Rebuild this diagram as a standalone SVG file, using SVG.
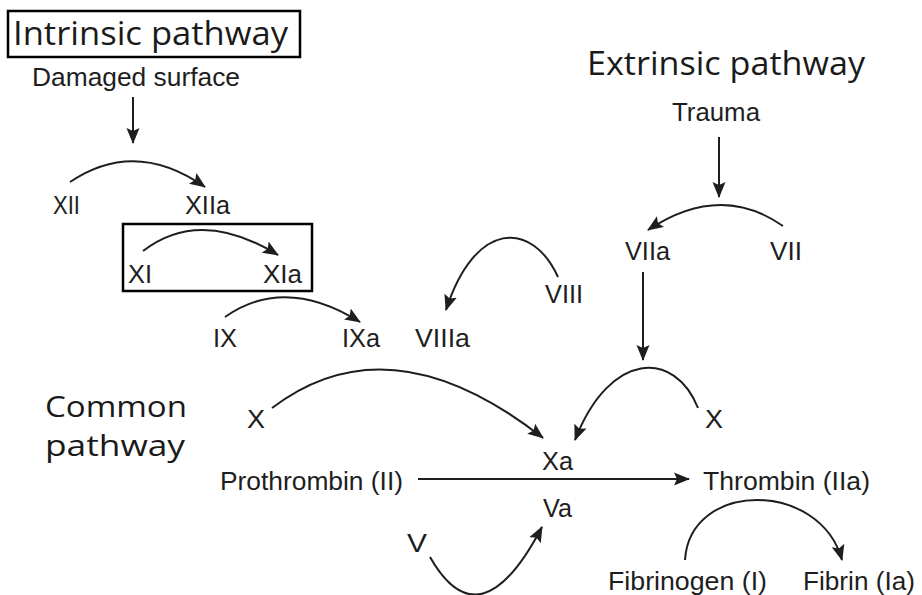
<svg xmlns="http://www.w3.org/2000/svg" width="922" height="595" viewBox="0 0 922 595">
<style>
.h{font-family:"Open Sans","Noto Sans",sans-serif;font-size:32px;fill:#1a1a1a}
.hc{font-family:"Open Sans","Noto Sans",sans-serif;font-size:29px;fill:#1a1a1a}
.l{font-family:"Liberation Sans",Arial,sans-serif;font-size:26px;fill:#1e1e1e}
.c{fill:none;stroke:#1e1e1e;stroke-width:2}
.box{fill:none;stroke:#000;stroke-width:2.5}
</style>
<defs>
<marker id="ah" markerUnits="userSpaceOnUse" markerWidth="16" markerHeight="14" refX="15" refY="7" orient="auto">
<path d="M0,0.5 L16,7 L0,13.5 L3,7 z" fill="#1e1e1e"/>
</marker>
</defs>
<rect width="922" height="595" fill="#fff"/>
<g id="intrinsic-title"><rect class="box" x="8" y="11" width="292" height="46"/><text class="h" x="13" y="45" textLength="275" lengthAdjust="spacingAndGlyphs">Intrinsic pathway</text></g>
<g id="extrinsic-title"><text class="h" x="587" y="75" textLength="278" lengthAdjust="spacingAndGlyphs">Extrinsic pathway</text></g>
<g id="common-title"><text class="hc" x="45" y="417" textLength="142" lengthAdjust="spacingAndGlyphs">Common</text><text class="hc" x="45" y="456" textLength="140" lengthAdjust="spacingAndGlyphs">pathway</text></g>
<g id="damaged"><text class="l" x="32" y="86" textLength="208" lengthAdjust="spacingAndGlyphs">Damaged surface</text></g>
<g id="XII"><text class="l" x="53" y="214" textLength="27" lengthAdjust="spacingAndGlyphs">XII</text></g>
<g id="XIIa"><text class="l" x="185" y="214" textLength="45" lengthAdjust="spacingAndGlyphs">XIIa</text></g>
<g id="XI-box"><rect class="box" x="123" y="224" width="189" height="67"/></g>
<g id="XI"><text class="l" x="128" y="283" textLength="24" lengthAdjust="spacingAndGlyphs">XI</text></g>
<g id="XIa"><text class="l" x="263" y="283" textLength="39" lengthAdjust="spacingAndGlyphs">XIa</text></g>
<g id="IX"><text class="l" x="213" y="347" textLength="24" lengthAdjust="spacingAndGlyphs">IX</text></g>
<g id="IXa"><text class="l" x="342" y="347" textLength="38" lengthAdjust="spacingAndGlyphs">IXa</text></g>
<g id="VIIIa"><text class="l" x="415" y="347" textLength="55" lengthAdjust="spacingAndGlyphs">VIIIa</text></g>
<g id="VIII"><text class="l" x="545" y="303" textLength="38" lengthAdjust="spacingAndGlyphs">VIII</text></g>
<g id="trauma"><text class="l" x="672" y="121" textLength="88" lengthAdjust="spacingAndGlyphs">Trauma</text></g>
<g id="VIIa"><text class="l" x="625" y="260" textLength="45" lengthAdjust="spacingAndGlyphs">VIIa</text></g>
<g id="VII"><text class="l" x="770" y="260" textLength="32" lengthAdjust="spacingAndGlyphs">VII</text></g>
<g id="X-left"><text class="l" x="247" y="428" textLength="18" lengthAdjust="spacingAndGlyphs">X</text></g>
<g id="X-right"><text class="l" x="705" y="428" textLength="18" lengthAdjust="spacingAndGlyphs">X</text></g>
<g id="Xa"><text class="l" x="542" y="470" textLength="31" lengthAdjust="spacingAndGlyphs">Xa</text></g>
<g id="prothrombin"><text class="l" x="220" y="490" textLength="183" lengthAdjust="spacingAndGlyphs">Prothrombin (II)</text></g>
<g id="thrombin"><text class="l" x="703" y="490" textLength="167" lengthAdjust="spacingAndGlyphs">Thrombin (IIa)</text></g>
<g id="Va"><text class="l" x="543" y="517" textLength="29" lengthAdjust="spacingAndGlyphs">Va</text></g>
<g id="V"><text class="l" x="407" y="552" textLength="20" lengthAdjust="spacingAndGlyphs">V</text></g>
<g id="fibrinogen"><text class="l" x="608" y="590" textLength="159" lengthAdjust="spacingAndGlyphs">Fibrinogen (I)</text></g>
<g id="fibrin"><text class="l" x="803" y="590" textLength="112" lengthAdjust="spacingAndGlyphs">Fibrin (Ia)</text></g>
<g id="connectors">
<path class="c" marker-end="url(#ah)" d="M133,97 L133,143"/>
<path class="c" marker-end="url(#ah)" d="M70,182 Q135,138 205,187"/>
<path class="c" marker-end="url(#ah)" d="M143,251 Q200,207 278,255"/>
<path class="c" marker-end="url(#ah)" d="M225,317 Q285,275 360,322"/>
<path class="c" marker-end="url(#ah)" d="M558,277 C532,220 475,220 446,310"/>
<path class="c" marker-end="url(#ah)" d="M719,137 L719,197"/>
<path class="c" marker-end="url(#ah)" d="M783,226 Q720,182 648,230"/>
<path class="c" marker-end="url(#ah)" d="M643,272 L643,360"/>
<path class="c" marker-end="url(#ah)" d="M272,408 Q390,318 543,438"/>
<path class="c" marker-end="url(#ah)" d="M698,408 C675,350 610,350 575,440"/>
<path class="c" marker-end="url(#ah)" d="M418,479 L689,479"/>
<path class="c" marker-end="url(#ah)" d="M430,557 Q480,645 542,527"/>
<path class="c" marker-end="url(#ah)" d="M685,560 C690,480 820,480 842,560"/>
</g>
</svg>
